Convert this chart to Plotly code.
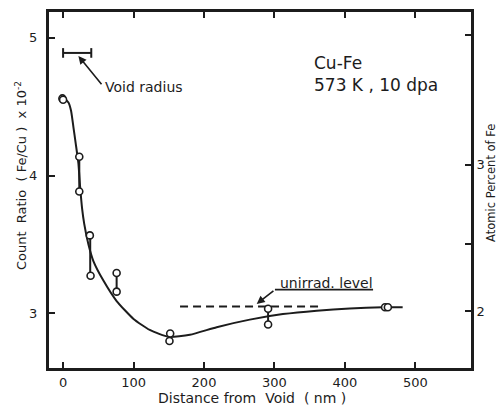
import plotly.graph_objects as go

# ---- data ----
pt_x = [-1, 0, 23, 23, 38, 39, 76, 76, 152, 151, 291, 291, 457, 461]
pt_y = [4.56, 4.55, 4.137, 3.885, 3.566, 3.273, 3.293, 3.158, 2.854, 2.80, 3.034, 2.92, 3.045, 3.045]

pair_x = [23, 38.5, 76, 151.5, 291]
pair_hi = [4.137, 3.566, 3.293, 2.854, 3.034]
pair_lo = [3.885, 3.273, 3.158, 2.80, 2.92]

curve_x = [0, 3, 7.6, 11.3, 14.7, 18, 21.7, 24, 27, 30, 36, 43, 57, 76, 100, 123, 150,
           180, 218, 265, 312, 360, 407, 454, 482]
curve_y = [4.55, 4.55, 4.53, 4.47, 4.35, 4.23, 4.09, 3.93, 3.76, 3.65, 3.50, 3.38, 3.24,
           3.09, 2.96, 2.88, 2.83, 2.845, 2.90, 2.955, 2.995, 3.02, 3.036, 3.045, 3.045]

unirrad_x = [166, 367]
unirrad_level = 3.05

void_radius_x = [0, 40]
void_radius_y = 4.89

x_ticks = [0, 100, 200, 300, 400, 500]
y_ticks = [3, 4, 5]
y2_ticks = [2, 2.46, 3, 3.88]
y2_text = ["2", "", "3", ""]

X_RANGE = [-20, 579]
Y_RANGE = [2.604, 5.187]
Y2_RANGE = [1.615, 4.04]

INK = "#1c1c1c"
FONT = "DejaVu Sans"

fig = go.Figure()

# fitted curve
fig.add_trace(go.Scatter(x=curve_x, y=curve_y, mode="lines",
                         line=dict(color=INK, width=2, shape="spline", smoothing=0.55),
                         hoverinfo="skip"))

# connectors between paired measurements
cx, cy = [], []
for x, hi, lo in zip(pair_x, pair_hi, pair_lo):
    cx += [x, x, None]
    cy += [hi, lo, None]
fig.add_trace(go.Scatter(x=cx, y=cy, mode="lines", line=dict(color=INK, width=2),
                         hoverinfo="skip"))

# unirradiated level (dashed)
fig.add_trace(go.Scatter(x=unirrad_x, y=[unirrad_level] * 2, mode="lines",
                         line=dict(color=INK, width=2, dash="8px,5px"), hoverinfo="skip"))

# void radius bar
fig.add_trace(go.Scatter(x=void_radius_x, y=[void_radius_y] * 2, mode="lines",
                         line=dict(color=INK, width=2), hoverinfo="skip"))
for vx in void_radius_x:
    fig.add_trace(go.Scatter(x=[vx, vx], y=[void_radius_y - 0.035, void_radius_y + 0.035],
                             mode="lines", line=dict(color=INK, width=2), hoverinfo="skip"))

# data points (open circles)
fig.add_trace(go.Scatter(x=pt_x, y=pt_y, mode="markers",
                         marker=dict(symbol="circle", size=7, color="white",
                                     line=dict(color=INK, width=1.6)),
                         hoverinfo="skip"))

# underline for label
fig.add_trace(go.Scatter(x=[300.7, 440], y=[3.173, 3.173], mode="lines",
                         line=dict(color=INK, width=1.8), hoverinfo="skip"))

# dummy trace on right axis
fig.add_trace(go.Scatter(x=[None], y=[None], yaxis="y2", showlegend=False))

annotations = [
    dict(text="Cu-Fe", x=354, y=4.82, xref="x", yref="y", xanchor="left", yanchor="middle",
         showarrow=False, font=dict(size=17, color=INK, family=FONT)),
    dict(text="573 K , 10 dpa", x=354, y=4.655, xref="x", yref="y", xanchor="left",
         yanchor="middle", showarrow=False, font=dict(size=17, color=INK, family=FONT)),
    dict(text="Void radius", x=57, y=4.64, xref="x", yref="y", xanchor="left", yanchor="middle",
         showarrow=False, font=dict(size=14, color=INK, family=FONT)),
    dict(text="", x=21.7, y=4.868, ax=56.3, ay=4.652, xref="x", yref="y", axref="x", ayref="y",
         showarrow=True, arrowhead=2, arrowsize=1, arrowwidth=1.6, arrowcolor=INK),
    dict(text="unirrad. level", x=374, y=3.218, xref="x", yref="y", xanchor="center",
         yanchor="middle", showarrow=False, font=dict(size=14, color=INK, family=FONT)),
    dict(text="", x=274.8, y=3.069, ax=300.7, ay=3.173, xref="x", yref="y", axref="x", ayref="y",
         showarrow=True, arrowhead=2, arrowsize=1, arrowwidth=1.6, arrowcolor=INK),
    dict(text="Distance from  Void  ( nm )", x=0.481, y=-0.083, xref="paper", yref="paper",
         xanchor="center", yanchor="middle", showarrow=False,
         font=dict(size=14, color=INK, family=FONT)),
    dict(text="Count  Ratio  ( Fe/Cu )  x 10<sup>-2</sup>", x=-0.068, y=0.54, xref="paper",
         yref="paper", xanchor="center", yanchor="middle", textangle=-90, showarrow=False,
         font=dict(size=13, color=INK, family=FONT)),
    dict(text="Atomic Percent of Fe", x=1.046, y=0.521, xref="paper", yref="paper",
         xanchor="center", yanchor="middle", textangle=-90, showarrow=False,
         font=dict(size=11.5, color=INK, family=FONT)),
]

axis_common = dict(showgrid=False, zeroline=False, showline=True, linecolor=INK, linewidth=3,
                   ticks="inside", ticklen=6, tickwidth=2, tickcolor=INK,
                   tickfont=dict(size=13, color=INK, family=FONT))

fig.update_layout(
    width=497, height=405,
    margin=dict(l=49, r=26, t=9, b=37),
    paper_bgcolor="white", plot_bgcolor="white",
    showlegend=False,
    xaxis=dict(range=X_RANGE, tickvals=x_ticks, mirror="ticks", ticklabelstandoff=0,
               **axis_common),
    yaxis=dict(range=Y_RANGE, tickvals=y_ticks, mirror=False, ticklabelstandoff=6,
               **axis_common),
    yaxis2=dict(range=Y2_RANGE, tickvals=y2_ticks, ticktext=y2_text, overlaying="y",
                side="right", ticklabelstandoff=0, **axis_common),
    annotations=annotations,
)

fig.write_html("out.html")
